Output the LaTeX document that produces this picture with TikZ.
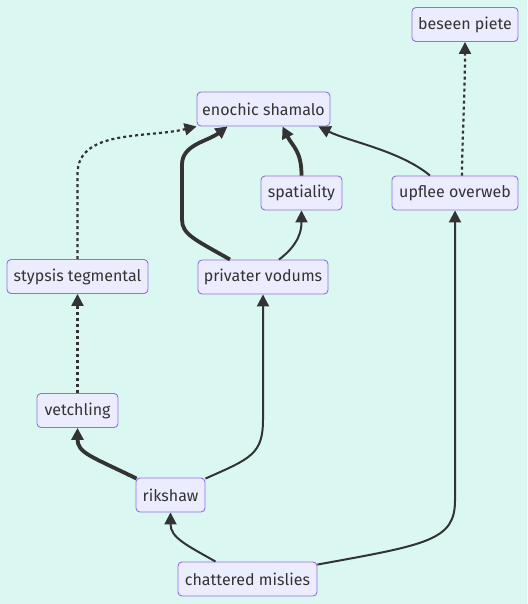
\documentclass[tikz,border=0pt]{standalone}
\usepackage{fontspec}
\setmainfont{Fira Sans}
\usetikzlibrary{arrows.meta,calc}
\definecolor{bgmint}{HTML}{DAF7F1}
\definecolor{boxfill}{HTML}{ECECFF}
\definecolor{boxline}{HTML}{9370DB}
\definecolor{linkgray}{HTML}{333333}

\begin{document}
\begin{tikzpicture}[
    x=1pt, y=-1pt,
    box/.style={draw=boxline, fill=boxfill, line width=0.9pt, rounded corners=4pt,
        minimum height=34pt, inner xsep=0pt, font=\fontsize{16}{19}\selectfont, text=linkgray},
    link/.style={draw=linkgray, line width=2pt, -{Triangle[length=12pt,width=12pt]}},
    thicklink/.style={link, line width=3.8pt},
    dottedlink/.style={link, line width=2.2pt, dash pattern=on 3pt off 3pt}
    ]

\useasboundingbox[fill=bgmint] (0,0) rectangle (527,604);

% nodes
\node[box, minimum width=133pt] (enoch) at (263.5,109) {enochic shamalo};
\node[box, minimum width=106pt] (beseen) at (465,24.5) {beseen piete};
\node[box, minimum width=81pt] (spat) at (301.5,193) {spatiality};
\node[box, minimum width=126pt] (upflee) at (455,193) {upflee overweb};
\node[box, minimum width=141pt] (styp) at (77.5,276.5) {stypsis tegmental};
\node[box, minimum width=130pt] (priv) at (263,277) {privater vodums};
\node[box, minimum width=81pt] (vetch) at (77.5,410.5) {vetchling};
\node[box, minimum width=69pt] (rik) at (170.5,495) {rikshaw};
\node[box, minimum width=139pt] (chat) at (247.5,579) {chattered mislies};

% links
\draw[link] ($(chat.north)+(-32,0)$) .. controls +(-30,-17) and +(0,25) .. (rik.south);
\draw[link] ($(chat.north east)+(0,3)$) .. controls +(110,-20) and +(0,40) .. ($(upflee.south)+(0,290)$) -- (upflee.south);
\draw[thicklink] ($(rik.north west)+(1,1)$) .. controls +(-45,-22) and +(0,25) .. (vetch.south);
\draw[link] ($(rik.north east)+(0,1)$) .. controls +(45,-20) and +(0,35) .. ($(priv.south)+(0,125)$) -- (priv.south);
\draw[dottedlink] (vetch.north) -- (styp.south);
\draw[dottedlink] (styp.north) -- ($(styp.north)+(0,-85)$) .. controls +(0,-45) and +(-50,12) .. (enoch.south west);
\draw[thicklink] ($(priv.north)+(-33,0)$) .. controls +(-35,-20) and +(0,15) .. ($(priv.north)+(-81,-40)$)
    -- ($(priv.north)+(-81,-95)$) .. controls +(0,-20) and +(-20,15) .. ($(enoch.south)+(-36,0)$);
\draw[link] ($(priv.north)+(16,0)$) .. controls +(20,-15) and +(0,20) .. (spat.south);
\draw[thicklink] (spat.north) .. controls +(0,-25) and +(10,20) .. ($(enoch.south)+(19,0)$);
\draw[link] ($(upflee.north)+(-25,0)$) .. controls +(-30,-25) and +(30,15) .. ($(enoch.south)+(55,0)$);
\draw[dottedlink] ($(upflee.north)+(7,0)$) .. controls +(0,-30) and +(0,50) .. (beseen.south);

\end{tikzpicture}
\end{document}
